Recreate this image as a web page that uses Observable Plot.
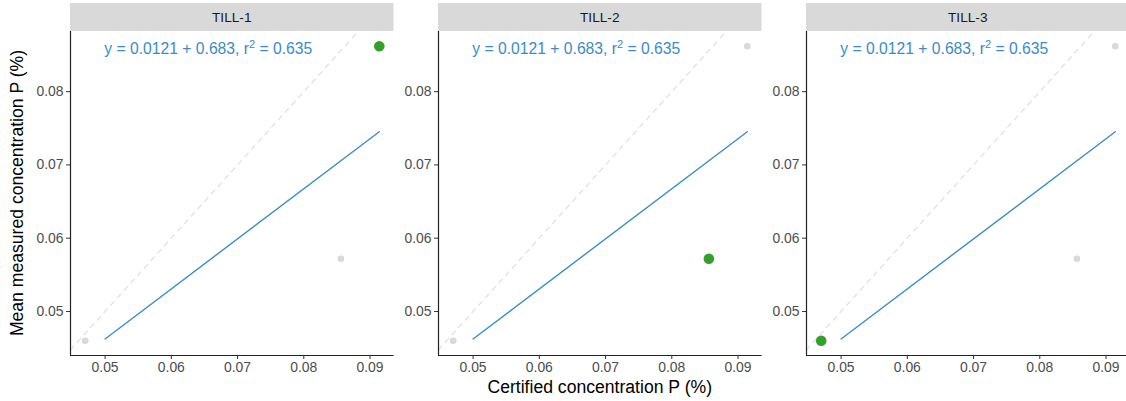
<!DOCTYPE html>
<html><head><meta charset="utf-8">
<script src="https://cdn.jsdelivr.net/npm/d3@7"></script>
<script src="https://cdn.jsdelivr.net/npm/@observablehq/plot@0.6"></script>
<style>
body{margin:0;background:#fff;overflow:hidden}
#chart{position:relative;width:1126px;height:401px;overflow:hidden;font-family:"Liberation Sans",Arial,sans-serif}
.panel{position:absolute;top:0}
.title{position:absolute;color:#000;font-size:17.6px;white-space:nowrap;line-height:1}
</style></head><body><div id="chart"></div>
<script>
// ---- data ----
const samples = ["TILL-1", "TILL-2", "TILL-3"];
const certified = [0.0914, 0.0856, 0.0470];
const measured = [0.0862, 0.0572, 0.0460];
const fitIntercept = 0.0121;
const fitSlope = 0.683;
const fitR2 = 0.635;
const fitX = [0.05, 0.0914];
const xTicks = [0.05, 0.06, 0.07, 0.08, 0.09];
const yTicks = [0.05, 0.06, 0.07, 0.08];
const xTitle = "Certified concentration P (%)";
const yTitle = "Mean measured concentration P (%)";

// ---- derived ----
const points = samples.map((s, i) => ({sample: s, x: certified[i], y: measured[i]}));
const ext = (arr) => { const lo = d3.min(arr), hi = d3.max(arr), p = (hi - lo) * 0.05; return [lo - p, hi + p]; };
const xDomain = ext(certified);
const yDomain = ext(measured);
const fitLine = fitX.map(x => ({x, y: fitIntercept + fitSlope * x}));
const idLo = Math.max(xDomain[0], yDomain[0]), idHi = Math.min(xDomain[1], yDomain[1]);
const identity = [{x: idLo, y: idLo}, {x: idHi, y: idHi}];
const labelA = `y = ${fitIntercept} + ${fitSlope}, r`;
const labelB = ` = ${fitR2}`;
const label = labelA + "2" + labelB;

const blue = "#3a8cc8", green = "#33a02c", grey = "#d9d9d9";
const panelW = 323.5, ML = 62, MR = 6, MT = 31, MB = 46, H = 401;
const panelLefts = [70, 438, 806];
const chart = document.getElementById("chart");

samples.forEach((s, k) => {
  const others = points.filter(d => d.sample !== s);
  const focus = points.filter(d => d.sample === s);
  const svg = Plot.plot({
    width: ML + panelW + MR, height: H,
    marginLeft: ML, marginRight: MR, marginTop: MT, marginBottom: MB,
    style: {fontFamily: '"Liberation Sans",Arial,sans-serif', fontSize: "13.7px", background: "transparent", overflow: "visible"},
    x: {domain: xDomain},
    y: {domain: yDomain},
    marks: [
      Plot.line(identity, {x: "x", y: "y", stroke: "#dcdcdc", strokeWidth: 1.1, strokeDasharray: "5,5"}),
      Plot.line(fitLine, {x: "x", y: "y", stroke: blue, strokeWidth: 1.4}),
      Plot.dot(others, {x: "x", y: "y", r: 3.3, fill: grey, stroke: "none"}),
      Plot.dot(focus, {x: "x", y: "y", r: 5.3, fill: green, stroke: "none"}),
      Plot.text([label], {frameAnchor: "top", dx: -24, dy: 17, lineAnchor: "middle", fill: blue, fontSize: 15.7}),
      Plot.axisX(xTicks, {tickSize: 4, tickPadding: 3, stroke: "#333", fill: "#4d4d4d", fontSize: 13.9, label: null, tickFormat: d => d.toFixed(2)}),
      Plot.axisY(yTicks, {tickSize: 4, tickPadding: 3, stroke: "#333", fill: "#4d4d4d", fontSize: 13.9, label: null, tickFormat: d => d.toFixed(2)}),
      Plot.ruleX([xDomain[0]], {stroke: "#222", strokeWidth: 1.2}),
      Plot.ruleY([yDomain[0]], {stroke: "#222", strokeWidth: 1.2})
    ]
  });
  svg.classList.add("panel");
  svg.style.left = (panelLefts[k] - ML) + "px";
  const g = d3.select(svg);
  // superscript 2 in the fit annotation
  g.selectAll("text").filter(function () { return this.textContent === label; }).each(function () {
    const t = d3.select(this);
    t.text(null);
    t.append("tspan").text(labelA);
    t.append("tspan").attr("dy", "-6px").attr("font-size", "11px").text("2");
    t.append("tspan").attr("dy", "6px").text(labelB);
  });
  g.insert("rect", ":first-child").attr("x", ML).attr("y", 3).attr("width", panelW).attr("height", 28).attr("fill", "#d9d9d9");
  g.append("text").attr("x", ML + panelW / 2).attr("y", 17).attr("text-anchor", "middle").attr("dominant-baseline", "central")
    .attr("fill", "#1a1a1a").attr("font-size", "13.7px").text(s);
  chart.appendChild(svg);
});

const xt = document.createElement("div");
xt.className = "title"; xt.textContent = xTitle;
xt.style.left = (panelLefts[1] + panelW / 2) + "px"; xt.style.top = "388px";
xt.style.transform = "translate(-50%,-50%)";
chart.appendChild(xt);
const yt = document.createElement("div");
yt.className = "title"; yt.textContent = yTitle;
yt.style.left = "18px"; yt.style.top = "193px";
yt.style.transform = "translate(-50%,-50%) rotate(-90deg)";
chart.appendChild(yt);
</script></body></html>
